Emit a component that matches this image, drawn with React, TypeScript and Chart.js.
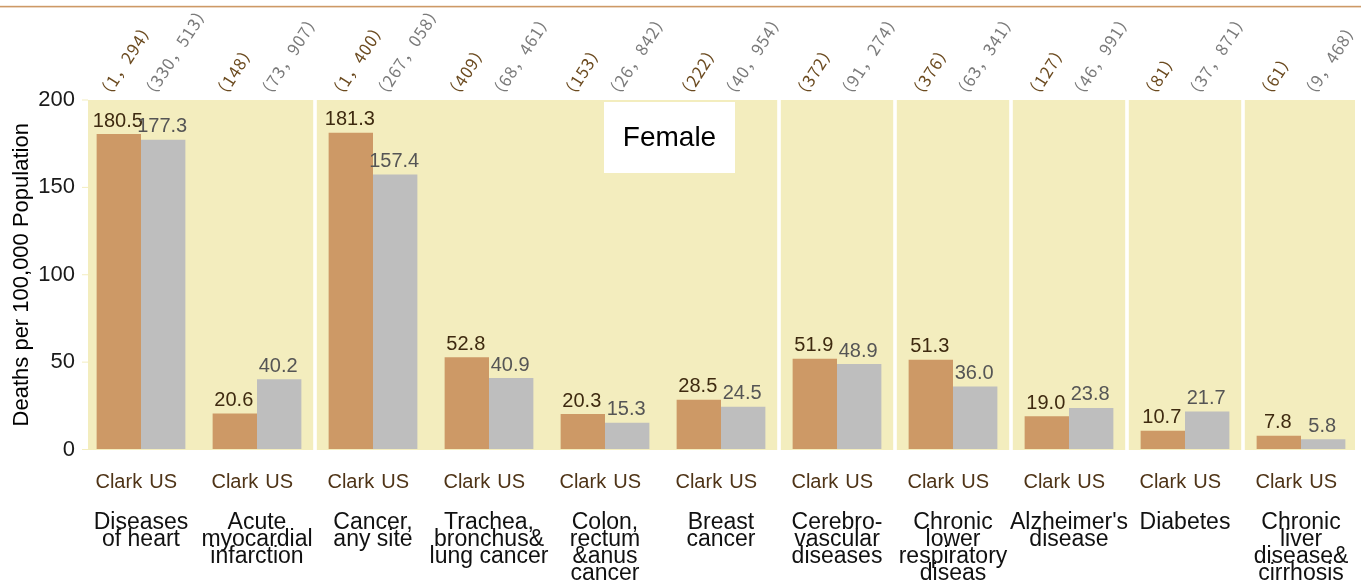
import React, { useEffect, useRef } from "react";
import { Chart, registerables } from "chart.js";

Chart.register(...registerables);

const causes: string[][] = [
  ["Diseases", "of heart"],
  ["Acute", "myocardial", "infarction"],
  ["Cancer,", "any site"],
  ["Trachea,", "bronchus&", "lung cancer"],
  ["Colon,", "rectum", "&anus", "cancer"],
  ["Breast", "cancer"],
  ["Cerebro-", "vascular", "diseases"],
  ["Chronic", "lower", "respiratory", "diseas"],
  ["Alzheimer's", "disease"],
  ["Diabetes"],
  ["Chronic", "liver", "disease&", "cirrhosis"],
];
const seriesNames = ["Clark", "US"];
const clarkRates = [180.5, 20.6, 181.3, 52.8, 20.3, 28.5, 51.9, 51.3, 19.0, 10.7, 7.8];
const usRates = [177.3, 40.2, 157.4, 40.9, 15.3, 24.5, 48.9, 36.0, 23.8, 21.7, 5.8];
const clarkCounts = ["1,294", "148", "1,400", "409", "153", "222", "372", "376", "127", "81", "61"];
const usCounts = ["330,513", "73,907", "267,058", "68,461", "26,842", "40,954", "91,274", "63,341", "46,991", "37,871", "9,468"];
const yTickValues = [0, 50, 100, 150, 200];
const panelTitle = "Female";
const yTitle = "Deaths per 100,000 Population";

const SANS = '"Liberation Sans", Arial, Helvetica, sans-serif';
const CJK = '"Noto Sans CJK JP", "Noto Sans CJK SC", sans-serif';
const C = {
  clark: "#CD9966",
  us: "#BEBEBE",
  panel: "#F3EDBE",
  clarkText: "#3E2A10",
  usText: "#555555",
  clarkTick: "#4F3417",
  clarkCount: "#6B4A1F",
  usCount: "#7A7A7A",
  topLine: "#CD9966",
};

const fullWidth = (s: string) => "\uFF08" + s.replace(/,/g, "\uFF0C") + "\uFF09";

const decorPlugin = {
  id: "decor",
  beforeDraw(chart: any) {
    const { ctx, chartArea: a, width } = chart;
    ctx.save();
    ctx.fillStyle = "#FFFFFF";
    ctx.fillRect(0, 0, chart.width, chart.height);
    ctx.fillStyle = C.topLine;
    ctx.fillRect(0, 5.8, width, 1.6);
    // panel background
    ctx.fillStyle = C.panel;
    ctx.fillRect(a.left + 5, a.top, a.right - 4 - (a.left + 5), a.bottom - a.top + 0.5);
    // white separators between some facets
    const step = (a.right - a.left) / causes.length;
    ctx.fillStyle = "#FFFFFF";
    [2, 6, 7, 8, 9, 10].forEach((k) => {
      const bx = a.left + step * k;
      ctx.fillRect(bx - 1.8, a.top, 3.6, a.bottom - a.top + 1);
    });
    // pale y ticks
    const y = chart.scales.y;
    ctx.strokeStyle = C.panel;
    ctx.lineWidth = 1;
    yTickValues.forEach((v) => {
      const py = y.getPixelForValue(v);
      ctx.beginPath();
      ctx.moveTo(a.left - 1, py);
      ctx.lineTo(a.left + 5, py);
      ctx.stroke();
    });
    ctx.restore();
  },
  afterDatasetsDraw(chart: any) {
    const { ctx, chartArea: a } = chart;
    const xs = chart.scales.x;
    const metas = [chart.getDatasetMeta(0), chart.getDatasetMeta(1)];
    const rates = [clarkRates, usRates];
    const counts = [clarkCounts, usCounts];
    const valColors = [C.clarkText, C.usText];
    const cntColors = [C.clarkCount, C.usCount];
    ctx.save();
    for (let d = 0; d < 2; d++) {
      metas[d].data.forEach((bar: any, i: number) => {
        // value labels
        ctx.font = `20px ${SANS}`;
        ctx.fillStyle = valColors[d];
        ctx.textAlign = "center";
        ctx.textBaseline = "alphabetic";
        ctx.fillText(rates[d][i].toFixed(1), bar.x - 1, bar.y - 7.5);
        // series labels under bars
        ctx.fillStyle = C.clarkTick;
        ctx.fillText(seriesNames[d], bar.x, a.bottom + 38.5);
        // rotated counts
        ctx.save();
        ctx.translate(bar.x - 18, a.top - 1);
        ctx.rotate((-57 * Math.PI) / 180);
        ctx.font = `16.5px ${CJK}`;
        (ctx as any).letterSpacing = "0.8px";
        ctx.fillStyle = cntColors[d];
        ctx.textAlign = "left";
        ctx.textBaseline = "middle";
        ctx.fillText(fullWidth(counts[d][i]), 0, 0);
        (ctx as any).letterSpacing = "0px";
        ctx.restore();
      });
    }
    // cause names
    ctx.font = `23px ${SANS}`;
    ctx.fillStyle = "#111111";
    ctx.textAlign = "center";
    ctx.textBaseline = "alphabetic";
    causes.forEach((lines, i) => {
      const cx = xs.getPixelForValue(i);
      lines.forEach((ln, j) => {
        ctx.fillText(ln, cx, a.bottom + 79 + j * 17.3);
      });
    });
    // facet title box
    const bx = a.left + 521;
    const by = a.top + 2;
    ctx.fillStyle = "#FFFFFF";
    ctx.fillRect(bx, by, 131, 71);
    ctx.fillStyle = "#000000";
    ctx.font = `28px ${SANS}`;
    ctx.textAlign = "center";
    ctx.textBaseline = "middle";
    ctx.fillText(panelTitle, bx + 65.5, by + 36);
    ctx.restore();
  },
};

export default function App() {
  const ref = useRef<HTMLCanvasElement | null>(null);
  useEffect(() => {
    document.body.style.margin = "0";
    const canvas = ref.current;
    if (!canvas) return;
    const chart = new Chart(canvas, {
      type: "bar",
      data: {
        labels: causes.map((c) => c.join(" ")),
        datasets: [
          { label: seriesNames[0], data: clarkRates, backgroundColor: C.clark, borderWidth: 0, categoryPercentage: 0.765, barPercentage: 1 },
          { label: seriesNames[1], data: usRates, backgroundColor: C.us, borderWidth: 0, categoryPercentage: 0.765, barPercentage: 1 },
        ],
      },
      options: {
        animation: false,
        responsive: false,
        maintainAspectRatio: false,
        layout: { padding: { top: 100, bottom: 134.5, left: 0, right: 2 } },
        plugins: { legend: { display: false }, tooltip: { enabled: false }, title: { display: false } },
        scales: {
          x: { display: false },
          y: {
            min: 0,
            max: 200,
            afterFit: (s: any) => {
              s.width = 83;
            },
            afterBuildTicks: (s: any) => {
              s.ticks = yTickValues.map((v) => ({ value: v }));
            },
            border: { display: false },
            grid: { drawOnChartArea: false, drawTicks: false },
            ticks: { padding: 8, color: "#1A1A1A", font: { family: SANS, size: 22 } },
            title: {
              display: true,
              text: yTitle,
              color: "#000000",
              font: { family: SANS, size: 22 },
              padding: { top: 9, bottom: 4 },
            },
          },
        },
      },
      plugins: [decorPlugin],
    });
    return () => chart.destroy();
  }, []);
  return (
    <div style={{ width: 1361, height: 584 }}>
      <canvas ref={ref} width={1361} height={584} style={{ display: "block", width: 1361, height: 584 }} />
    </div>
  );
}
